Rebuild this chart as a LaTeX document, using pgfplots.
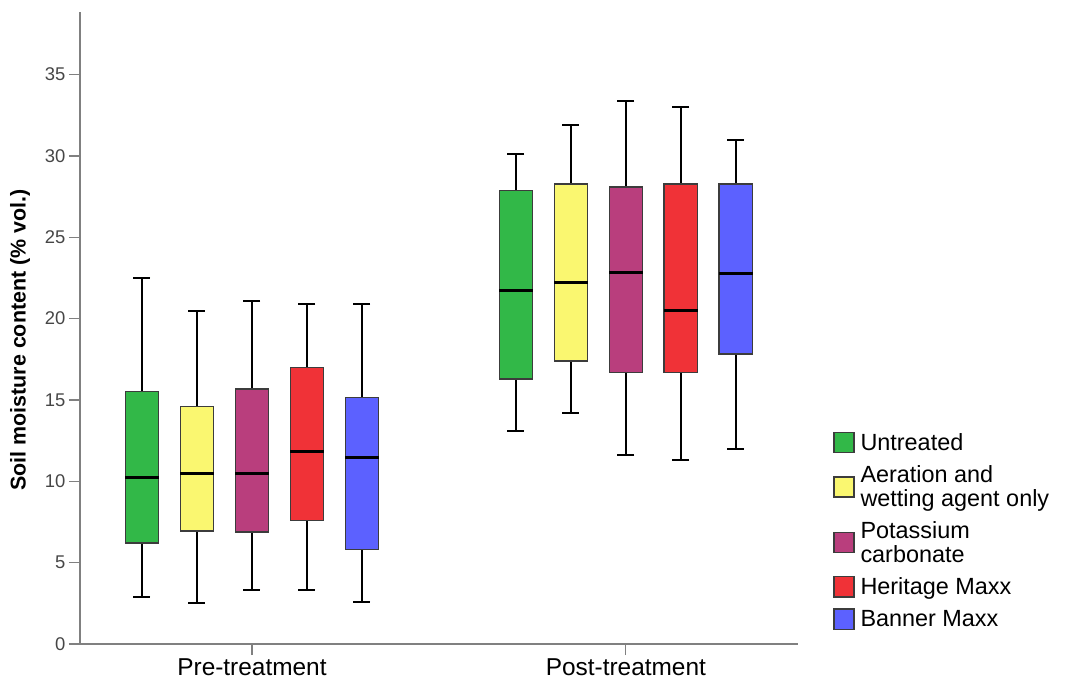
\documentclass[border=0pt]{standalone}
\usepackage{pgfplots}
\pgfplotsset{compat=1.18}
\usepgfplotslibrary{statistics}
\usepackage{fontspec}
\setmainfont{Liberation Sans}
\definecolor{cgreen}{RGB}{50,184,72}
\definecolor{cyellow}{RGB}{250,247,112}
\definecolor{cpurple}{RGB}{185,62,125}
\definecolor{cred}{RGB}{240,50,55}
\definecolor{cblue}{RGB}{92,97,255}
\definecolor{cborder}{RGB}{60,60,60}
\definecolor{caxis}{RGB}{128,128,128}
\definecolor{ctick}{RGB}{70,70,70}
\begin{document}
\begin{tikzpicture}
\useasboundingbox (0,0) rectangle (1070bp,687bp);
\begin{axis}[
  at={(80bp,43bp)}, anchor=south west,
  scale only axis, width=718bp, height=632bp,
  xmin=-3.127, xmax=9.93, ymin=0, ymax=38.85,
  axis x line*=bottom, axis y line*=left,
  axis line style={draw=caxis, line width=1.1bp},
  tick align=outside, major tick length=11bp,
  tick style={draw=caxis, line width=1.1bp},
  ytick={0,5,10,15,20,25,30,35},
  xtick={0,6.8}, xticklabels={Pre-treatment,Post-treatment},
  /pgf/number format/assume math mode=true,
  yticklabel style={font=\fontsize{18.5}{18.5}\selectfont, text=ctick},
  xticklabel style={font=\fontsize{24.5}{24.5}\selectfont, text=black},
  every axis y label/.style={at={(rel axis cs:0,0.481)}, xshift=-60bp, rotate=90, anchor=center, font=\bfseries\fontsize{21.5}{21.5}\selectfont},
  ylabel={Soil moisture content (\% vol.)},
  boxplot/draw direction=y,
  boxplot/box extend=0.605,
  boxplot/whisker extend=0.31,
  boxplot/every box/.style={draw=cborder, line width=1.5bp},
  boxplot/every whisker/.style={draw=black, line width=2bp},
  boxplot/every median/.style={draw=black, line width=3bp},
  legend style={at={(1,0)}, anchor=south west, xshift=35bp, yshift=14bp, draw=none, fill=none, inner sep=0pt,
    font=\fontsize{23.5}{24.5}\selectfont, cells={anchor=west, align=left}, nodes={inner sep=1bp}, row sep=11bp, column sep=5bp},
  legend image code/.code={\draw[#1, draw=cborder, line width=1.3bp] (0bp,-10bp) rectangle (20bp,10bp);},
]
% Pre-treatment
\addplot[forget plot, fill=cgreen, boxplot prepared={draw position=-2, lower whisker=2.89, lower quartile=6.21, median=10.25, upper quartile=15.51, upper whisker=22.51}] coordinates {};
\addplot[forget plot, fill=cyellow, boxplot prepared={draw position=-1, lower whisker=2.50, lower quartile=6.96, median=10.49, upper quartile=14.59, upper whisker=20.49}] coordinates {};
\addplot[forget plot, fill=cpurple, boxplot prepared={draw position=0, lower whisker=3.32, lower quartile=6.90, median=10.49, upper quartile=15.69, upper whisker=21.08}] coordinates {};
\addplot[forget plot, fill=cred, boxplot prepared={draw position=1, lower whisker=3.32, lower quartile=7.60, median=11.86, upper quartile=17.00, upper whisker=20.90}] coordinates {};
\addplot[forget plot, fill=cblue, boxplot prepared={draw position=2, lower whisker=2.60, lower quartile=5.82, median=11.45, upper quartile=15.16, upper whisker=20.90}] coordinates {};
% Post-treatment
\addplot[forget plot, fill=cgreen, boxplot prepared={draw position=4.8, lower whisker=13.11, lower quartile=16.29, median=21.76, upper quartile=27.88, upper whisker=30.10}] coordinates {};
\addplot[forget plot, fill=cyellow, boxplot prepared={draw position=5.8, lower whisker=14.22, lower quartile=17.39, median=22.25, upper quartile=28.27, upper whisker=31.90}] coordinates {};
\addplot[forget plot, fill=cpurple, boxplot prepared={draw position=6.8, lower whisker=11.60, lower quartile=16.70, median=22.82, upper quartile=28.09, upper whisker=33.37}] coordinates {};
\addplot[forget plot, fill=cred, boxplot prepared={draw position=7.8, lower whisker=11.31, lower quartile=16.70, median=20.51, upper quartile=28.27, upper whisker=33.00}] coordinates {};
\addplot[forget plot, fill=cblue, boxplot prepared={draw position=8.8, lower whisker=12.00, lower quartile=17.82, median=22.76, upper quartile=28.27, upper whisker=31.00}] coordinates {};
\addlegendimage{fill=cgreen}
\addlegendentry{Untreated}
\addlegendimage{fill=cyellow}
\addlegendentry{Aeration and\\wetting agent only}
\addlegendimage{fill=cpurple}
\addlegendentry{Potassium\\carbonate}
\addlegendimage{fill=cred}
\addlegendentry{Heritage Maxx}
\addlegendimage{fill=cblue}
\addlegendentry{Banner Maxx}
\end{axis}
\end{tikzpicture}
\end{document}
